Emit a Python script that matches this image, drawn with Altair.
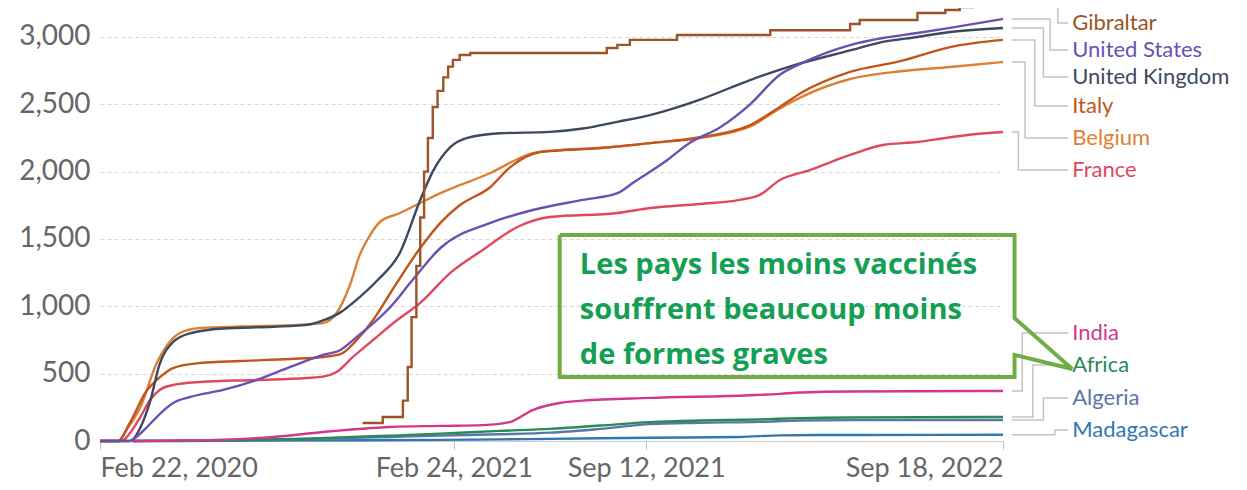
import altair as alt
import pandas as pd

# ---------------- data ----------------
series_names = ["Gibraltar", "United States", "United Kingdom", "Italy", "Belgium",
                "France", "India", "Africa", "Algeria", "Madagascar"]
series_colors = ["#9c5426", "#6c4fb3", "#3b4a5e", "#c2541d", "#de8033",
                 "#e0485f", "#d2388a", "#2a8a55", "#5a76a6", "#2e78b4"]

uk_dates = ["2020-02-22", "2020-03-24", "2020-03-27", "2020-04-04", "2020-04-14", "2020-04-24",
            "2020-05-08", "2020-05-26", "2020-06-29", "2020-08-20", "2020-09-24", "2020-10-11",
            "2020-10-29", "2020-11-15", "2020-12-06", "2020-12-30", "2021-01-20", "2021-02-02",
            "2021-02-20", "2021-03-10", "2021-04-13", "2021-06-04", "2021-07-08", "2021-08-13",
            "2021-09-16", "2021-11-07", "2021-12-29", "2022-02-08", "2022-04-12", "2022-05-16",
            "2022-06-21", "2022-07-25", "2022-09-18"]
uk_values = [0, 0, 10, 100, 290, 570, 735, 800, 835, 848, 862, 895, 955, 1050, 1190, 1400,
             1790, 2000, 2180, 2250, 2285, 2295, 2320, 2370, 2420, 2535, 2680, 2780, 2900,
             2963, 3000, 3037, 3067]

us_dates = ["2020-02-22", "2020-03-24", "2020-03-27", "2020-04-11", "2020-04-21", "2020-05-08",
            "2020-05-26", "2020-06-29", "2020-08-03", "2020-09-07", "2020-10-11", "2020-10-29",
            "2020-11-15", "2020-12-20", "2021-01-12", "2021-02-10", "2021-04-03", "2021-05-17",
            "2021-07-08", "2021-08-13", "2021-08-29", "2021-10-04", "2021-10-27", "2021-11-28",
            "2021-12-29", "2022-01-29", "2022-02-19", "2022-04-12", "2022-05-16", "2022-06-21",
            "2022-07-25", "2022-09-18"]
us_values = [0, 0, 10, 104, 178, 282, 327, 379, 453, 550, 639, 676, 772, 995, 1195, 1433,
             1619, 1715, 1790, 1840, 1916, 2087, 2213, 2330, 2500, 2720, 2800, 2940, 2992,
             3029, 3067, 3134]

it_dates = ["2020-02-22", "2020-03-12", "2020-03-24", "2020-04-11", "2020-04-21", "2020-05-08",
            "2020-06-05", "2020-07-17", "2020-09-07", "2020-10-11", "2020-10-29", "2020-11-15",
            "2020-12-02", "2020-12-20", "2021-01-20", "2021-02-10", "2021-03-02", "2021-04-03",
            "2021-04-23", "2021-05-25", "2021-07-26", "2021-09-16", "2021-11-07", "2021-12-29",
            "2022-01-29", "2022-02-19", "2022-04-12", "2022-06-03", "2022-07-25", "2022-09-18"]
it_values = [0, 0, 134, 379, 453, 542, 579, 594, 609, 624, 645, 750, 898, 1099, 1433, 1620,
             1750, 1886, 2030, 2146, 2175, 2212, 2255, 2345, 2480, 2580, 2740, 2820, 2925, 2978]

be_dates = ["2020-02-22", "2020-03-12", "2020-03-19", "2020-04-04", "2020-04-21", "2020-05-02",
            "2020-05-15", "2020-06-05", "2020-07-17", "2020-09-07", "2020-10-11", "2020-10-25",
            "2020-11-08", "2020-11-18", "2020-11-29", "2020-12-09", "2020-12-30", "2021-01-20",
            "2021-02-10", "2021-03-02", "2021-04-03", "2021-04-23", "2021-05-17", "2021-06-14",
            "2021-07-26", "2021-09-16", "2021-11-07", "2021-12-29", "2022-01-29", "2022-02-19",
            "2022-04-12", "2022-06-03", "2022-07-25", "2022-09-18"]
be_values = [0, 0, 67, 252, 579, 713, 802, 839, 850, 860, 875, 950, 1160, 1380, 1530, 1626,
             1693, 1767, 1840, 1900, 1990, 2064, 2138, 2160, 2175, 2212, 2250, 2335, 2470,
             2550, 2688, 2745, 2777, 2814]

fr_dates = ["2020-02-22", "2020-03-16", "2020-03-21", "2020-04-04", "2020-04-14", "2020-04-24",
            "2020-05-08", "2020-06-05", "2020-08-03", "2020-09-24", "2020-10-11", "2020-10-25",
            "2020-11-11", "2020-12-02", "2020-12-27", "2021-01-20", "2021-02-20", "2021-03-26",
            "2021-05-01", "2021-06-04", "2021-08-13", "2021-09-16", "2021-11-07", "2021-12-18",
            "2022-01-08", "2022-01-29", "2022-03-01", "2022-04-12", "2022-05-16", "2022-06-21",
            "2022-07-20", "2022-08-12", "2022-09-18"]
fr_values = [0, 0, 30, 178, 304, 379, 416, 438, 453, 468, 478, 512, 624, 750, 898, 1025,
             1247, 1418, 1589, 1663, 1693, 1730, 1760, 1790, 1827, 1938, 2012, 2124, 2198,
             2220, 2250, 2272, 2294]

gi_dates = ["2020-11-21", "2020-12-12", "2021-01-02", "2021-01-07", "2021-01-11", "2021-01-16",
            "2021-01-20", "2021-01-24", "2021-01-28", "2021-02-02", "2021-02-07", "2021-02-13",
            "2021-02-18", "2021-02-23", "2021-03-02", "2021-03-13", "2021-08-02", "2021-08-13",
            "2021-08-26", "2021-10-14", "2022-01-19", "2022-04-12", "2022-04-22", "2022-06-21",
            "2022-07-20", "2022-08-04", "2022-08-18", "2022-08-28", "2022-09-18"]
gi_values = [134, 178, 300, 550, 920, 1300, 1660, 2000, 2250, 2480, 2600, 2700, 2780, 2830,
             2866, 2881, 2918, 2941, 2978, 3015, 3050, 3096, 3126, 3178, 3200, 3222, 3252,
             3275, 3290]

in_dates = ["2020-03-27", "2020-06-29", "2020-08-20", "2020-10-11", "2020-12-20", "2021-02-10",
            "2021-03-26", "2021-04-23", "2021-05-17", "2021-06-14", "2021-07-08", "2021-09-16",
            "2021-12-29", "2022-01-29", "2022-02-19", "2022-04-12", "2022-09-18"]
in_values = [0, 10, 30, 67, 104, 112, 118, 140, 230, 282, 300, 320, 340, 350, 360, 368, 371]

af_dates = ["2020-03-27", "2020-06-29", "2020-09-24", "2020-12-20", "2021-02-10", "2021-04-13",
            "2021-06-04", "2021-07-26", "2021-09-16", "2021-11-07", "2022-01-08", "2022-02-19",
            "2022-04-12", "2022-09-18"]
af_values = [0, 5, 18, 40, 55, 75, 90, 115, 140, 152, 160, 170, 175, 178]

dz_dates = af_dates
dz_values = [0, 5, 15, 30, 40, 50, 62, 90, 125, 135, 142, 152, 155, 156]

mg_dates = ["2020-03-27", "2020-05-15", "2020-09-24", "2021-02-10", "2021-04-13", "2021-07-26",
            "2021-09-16", "2021-12-18", "2022-01-29", "2022-04-12", "2022-09-18"]
mg_values = [0, 0, 5, 8, 12, 20, 24, 30, 42, 45, 46]

# label placement (value where each end label sits) and connector elbow (days after last date)
label_values = [3104, 2903, 2703, 2488, 2250, 2012, 802, 564, 319, 82]
elbow_days = [57, 49, 42, 33, 23, 16, 20, 31, 42, 54]

tick_dates = [(2020, 2, 22), (2021, 2, 24), (2021, 9, 12), (2022, 9, 18)]
y_ticks = [0, 500, 1000, 1500, 2000, 2500, 3000]

note_lines = ["Les pays les moins vaccinés", "souffrent beaucoup moins", "de formes graves"]
note_values = [1240, 906, 572]
note_date = "2021-07-05"

callout_dates = ["2021-06-14", "2022-09-30", "2022-09-30", "2022-11-29", "2022-09-30",
                 "2022-09-30", "2021-06-14", "2021-06-14"]
callout_values = [1530, 1530, 913, 535, 639, 475, 475, 1530]

# ---------------- build tables ----------------
series_data = {
    "Gibraltar": (gi_dates, gi_values),
    "United States": (us_dates, us_values),
    "United Kingdom": (uk_dates, uk_values),
    "Italy": (it_dates, it_values),
    "Belgium": (be_dates, be_values),
    "France": (fr_dates, fr_values),
    "India": (in_dates, in_values),
    "Africa": (af_dates, af_values),
    "Algeria": (dz_dates, dz_values),
    "Madagascar": (mg_dates, mg_values),
}


def frame(name):
    d, v = series_data[name]
    return pd.DataFrame({"series": name, "date": d, "value": v})


draw_order = ["Madagascar", "Algeria", "Africa", "India", "France", "Belgium",
              "Italy", "United Kingdom", "United States"]
smooth_df = pd.concat([frame(n) for n in draw_order], ignore_index=True)
gib_df = frame("Gibraltar")

conn_rows, label_rows = [], []
for name, lv, el in zip(series_names, label_values, elbow_days):
    d, v = series_data[name]
    end = pd.Timestamp(d[-1])
    pts = [(end + pd.Timedelta(days=9), v[-1]), (end + pd.Timedelta(days=el), v[-1]),
           (end + pd.Timedelta(days=el), lv), (end + pd.Timedelta(days=68), lv)]
    for i, (dd, vv) in enumerate(pts):
        conn_rows.append({"series": name, "date": dd.strftime("%Y-%m-%d"), "value": vv, "idx": i})
    label_rows.append({"series": name,
                       "date": (end + pd.Timedelta(days=72)).strftime("%Y-%m-%d"),
                       "value": lv})
conn_df = pd.DataFrame(conn_rows)
label_df = pd.DataFrame(label_rows)

note_df = pd.DataFrame({"text": note_lines, "value": note_values, "date": note_date})
callout_df = pd.DataFrame({"date": callout_dates, "value": callout_values,
                           "idx": list(range(len(callout_dates)))})

# ---------------- scales & axes ----------------
xscale = alt.Scale(type="utc", nice=False,
                   domain=[alt.DateTime(year=2020, month=2, date=22, utc=True),
                           alt.DateTime(year=2022, month=9, date=18, utc=True)])
yscale = alt.Scale(domain=[0, 3215], nice=False, zero=True)

xaxis = alt.Axis(values=[alt.DateTime(year=y, month=m, date=d, utc=True) for y, m, d in tick_dates],
                 labelExpr="utcFormat(datum.value, '%b %d, %Y')",
                 labelFlush=True, labelOverlap=False,
                 labelFont="Lato", labelFontSize=27, labelColor="#666666",
                 labelBaseline="alphabetic", labelPadding=27,
                 tickSize=8, tickColor="#bbbbbb", domainColor="#cccccc",
                 grid=False, title=None)
yaxis = alt.Axis(values=y_ticks, labelExpr="format(datum.value, ',')",
                 labelFont="Lato", labelFontSize=28,
                 labelColor="#666666", ticks=False, tickSize=0, domain=False,
                 grid=True, gridDash=[4, 3], gridColor="#d6d6d6", labelPadding=10, title=None)

X = alt.X("date:T", scale=xscale, axis=xaxis)
Y = alt.Y("value:Q", scale=yscale, axis=yaxis)

color = alt.Color("series:N", scale=alt.Scale(domain=series_names, range=series_colors),
                  legend=None)

lines = alt.Chart(smooth_df).mark_line(strokeWidth=2.4, interpolate="monotone").encode(
    x=X, y=Y, color=color, detail="series:N",
)

gib = alt.Chart(gib_df).mark_line(strokeWidth=2.4, interpolate="step-after").encode(
    x=X, y=Y, color=color,
)

connectors = alt.Chart(conn_df).mark_line(strokeWidth=1.5, color="#c4c4c4").encode(
    x=X, y=Y, detail="series:N", order="idx:Q",
)

labels = alt.Chart(label_df).mark_text(align="left", baseline="middle", font="Lato",
                                       fontSize=22).encode(
    x=X, y=Y, text="series:N", color=color,
)

callout = alt.Chart(callout_df).mark_line(strokeWidth=4, color="#70ad47",
                                          strokeJoin="miter").encode(
    x=X, y=Y, order="idx:Q",
)

note = alt.Chart(note_df).mark_text(align="left", baseline="alphabetic", font="Open Sans",
                                    fontWeight="bold", fontSize=29, color="#13a052").encode(
    x=X, y=Y, text="text:N",
)

chart = alt.layer(lines, gib, connectors, labels, callout, note).properties(
    width=903,
    height=433,
    autosize=alt.AutoSizeParams(type="none"),
    padding={"left": 92, "top": 0, "right": 236, "bottom": 41},
).configure_view(stroke=None)

chart.save("out.html", embed_options={"renderer": "svg", "actions": False})
